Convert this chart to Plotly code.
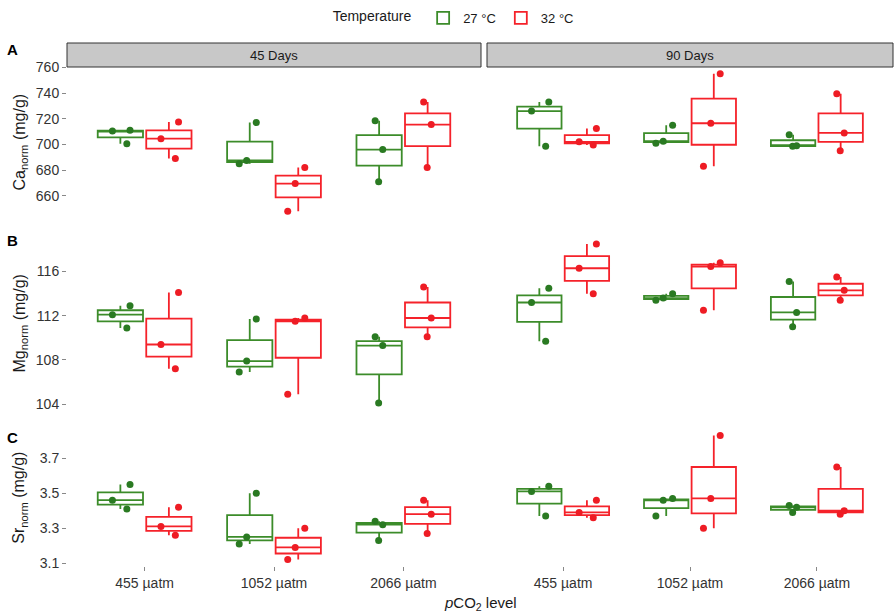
import plotly.graph_objects as go

# ---------------- data ----------------
PCO2 = ["455 µatm", "1052 µatm", "2066 µatm"]
DAYS = ["45 Days", "90 Days"]
TEMPS = ["27 °C", "32 °C"]

# Ca_norm (mg/g): three replicates per pCO2 level
CA_45_27 = [[700.5, 710.5, 711.0], [685.0, 687.5, 717.0], [671.0, 696.0, 718.5]]
CA_45_32 = [[689.0, 704.5, 717.5], [648.0, 669.5, 682.0], [682.0, 715.5, 733.0]]
CA_90_27 = [[698.5, 726.0, 733.0], [701.0, 702.5, 715.0], [698.5, 699.0, 707.5]]
CA_90_32 = [[699.5, 702.0, 712.5], [683.0, 716.5, 755.0], [695.0, 709.0, 739.5]]

# Mg_norm (mg/g)
MG_45_27 = [[110.9, 112.1, 112.9], [106.9, 107.9, 111.7], [104.1, 109.3, 110.1]]
MG_45_32 = [[107.2, 109.4, 114.1], [104.9, 111.5, 111.8], [110.1, 111.8, 114.6]]
MG_90_27 = [[109.7, 113.2, 114.5], [113.4, 113.6, 114.0], [111.0, 112.3, 115.1]]
MG_90_32 = [[114.0, 116.3, 118.5], [112.5, 116.45, 116.8], [113.4, 114.3, 115.5]]

# Sr_norm (mg/g)
SR_45_27 = [[3.41, 3.46, 3.55], [3.21, 3.25, 3.50], [3.23, 3.32, 3.34]]
SR_45_32 = [[3.26, 3.31, 3.42], [3.12, 3.19, 3.30], [3.27, 3.38, 3.46]]
SR_90_27 = [[3.37, 3.51, 3.54], [3.37, 3.46, 3.47], [3.39, 3.42, 3.43]]
SR_90_32 = [[3.36, 3.39, 3.46], [3.30, 3.47, 3.83], [3.38, 3.40, 3.65]]

CA_TICKS = [660, 680, 700, 720, 740, 760]
MG_TICKS = [104, 108, 112, 116]
SR_TICKS = [3.1, 3.3, 3.5, 3.7]

# ---------------- styling / layout ----------------
W, H = 895, 616
LINE_COL = {"27 °C": "#3C8C2A", "32 °C": "#F5222A"}
PT_COL = {"27 °C": "#2A7A22", "32 °C": "#EE1C24"}
FONT = "Liberation Sans, Arial, sans-serif"

rows = [
    ("Ca", {"45 Days": {"27 °C": CA_45_27, "32 °C": CA_45_32},
            "90 Days": {"27 °C": CA_90_27, "32 °C": CA_90_32}},
     [642.65, 760.35], CA_TICKS, (67, 218)),
    ("Mg", {"45 Days": {"27 °C": MG_45_27, "32 °C": MG_45_32},
            "90 Days": {"27 °C": MG_90_27, "32 °C": MG_90_32}},
     [103.38, 119.22], MG_TICKS, (236, 411)),
    ("Sr", {"45 Days": {"27 °C": SR_45_27, "32 °C": SR_45_32},
            "90 Days": {"27 °C": SR_90_27, "32 °C": SR_90_32}},
     [3.0835, 3.8645], SR_TICKS, (429.5, 566)),
]
col_px = [(67, 481), (487, 893)]

fig = go.Figure()
layout = dict(
    width=W, height=H, margin=dict(l=0, r=0, t=0, b=0),
    paper_bgcolor="white", plot_bgcolor="white",
    boxmode="group", boxgap=0.25, boxgroupgap=0.067,
    font=dict(family=FONT, color="#1a1a1a"),
    showlegend=True,
    legend=dict(orientation="h", x=0.508, xanchor="center", y=1 - 3 / H, yanchor="top",
                title=dict(text="Temperature ", side="left", font=dict(size=14)),
                font=dict(size=13), itemwidth=30, tracegroupgap=0),
)
shapes, annotations = [], []


def ann(text, x, y, size, color="#1a1a1a", angle=0):
    annotations.append(dict(text=text, xref="paper", yref="paper", x=x / W, y=1 - y / H,
                            xanchor="center", yanchor="middle", showarrow=False,
                            textangle=angle, font=dict(size=size, color=color)))


idx = 0
for r, (elem, data, yrange, yticks, (ytop, ybot)) in enumerate(rows):
    for c, day in enumerate(DAYS):
        idx += 1
        xa = "x" if idx == 1 else f"x{idx}"
        ya = "y" if idx == 1 else f"y{idx}"
        x0, x1 = col_px[c]
        last_row = r == len(rows) - 1
        layout["xaxis" if idx == 1 else f"xaxis{idx}"] = dict(
            domain=[x0 / W, x1 / W], anchor=ya, type="category",
            categoryorder="array", categoryarray=PCO2, range=[-0.6, 2.6],
            showgrid=False, zeroline=False, showline=False,
            showticklabels=last_row, ticks="outside" if last_row else "",
            ticklen=4, tickcolor="#888888", tickwidth=1,
            tickfont=dict(size=14, color="#333333"), automargin=False, fixedrange=True,
        )
        layout["yaxis" if idx == 1 else f"yaxis{idx}"] = dict(
            domain=[1 - ybot / H, 1 - ytop / H], anchor=xa, range=yrange,
            tickvals=yticks, ticktext=[str(t) for t in yticks],
            showgrid=False, zeroline=False, showline=False,
            showticklabels=(c == 0), ticks="outside" if c == 0 else "",
            ticklen=4, tickcolor="#888888", tickwidth=1,
            tickfont=dict(size=14, color="#333333"), automargin=False, fixedrange=True,
        )
        for t in TEMPS:
            xs, ys = [], []
            for k, cat in enumerate(PCO2):
                for v in data[day][t][k]:
                    xs.append(cat)
                    ys.append(v)
            fig.add_trace(go.Box(
                x=xs, y=ys, name=t, xaxis=xa, yaxis=ya,
                legendgroup=t, showlegend=(idx == 1), offsetgroup=t,
                line=dict(color=LINE_COL[t], width=1.8),
                fillcolor="rgba(255,255,255,0)",
                boxpoints="all", jitter=0.55, pointpos=0,
                marker=dict(color=PT_COL[t], size=7, opacity=1, line=dict(width=0)),
                quartilemethod="inclusive", whiskerwidth=0,
                hoverinfo="y",
            ))
        if r == 0:
            shapes.append(dict(type="rect", xref="paper", yref="paper",
                               x0=x0 / W, x1=x1 / W, y0=1 - 67 / H, y1=1 - 43 / H,
                               fillcolor="#C8C8C8", line=dict(color="#333333", width=1),
                               layer="below"))
            ann(day, (x0 + x1) / 2, 55, 13)
    letter = "ABC"[r]
    ly = {0: 49, 1: 241, 2: 437}[r]
    ann(f"<b>{letter}</b>", 12.5, ly, 15, color="#000000")
    ann(f"{elem}<sub>norm</sub> (mg/g)", 20, (ytop + ybot) / 2, 16, angle=-90)

ann("<i>p</i>CO<sub>2</sub> level", 480, 603, 15)

layout["shapes"] = shapes
layout["annotations"] = annotations
fig.update_layout(**layout)
fig.write_html("out.html")
